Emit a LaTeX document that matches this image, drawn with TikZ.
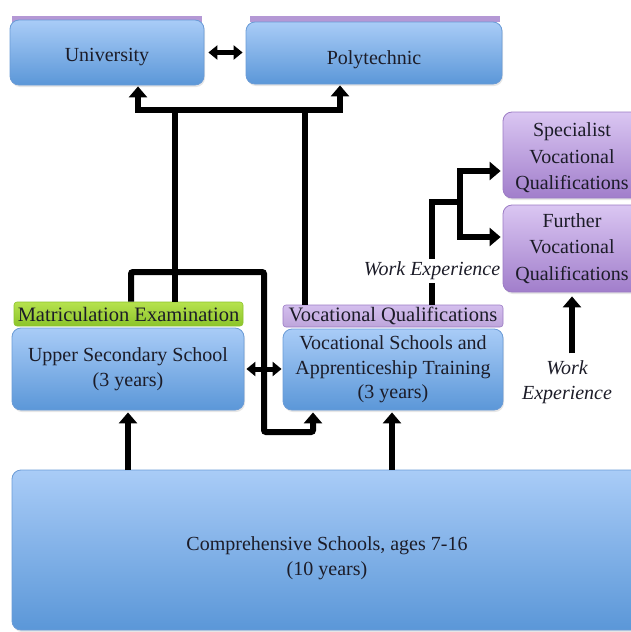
\documentclass[tikz,border=0pt]{standalone}
\usepackage{fontspec}
\setmainfont{Liberation Serif}
\usetikzlibrary{arrows.meta,shadows}
\definecolor{bluetop}{HTML}{A9CCF7}
\definecolor{bluebot}{HTML}{5B97D8}
\definecolor{blueedge}{HTML}{6A9BD6}
\definecolor{purptop}{HTML}{DAC6F2}
\definecolor{purpbot}{HTML}{A17ECB}
\definecolor{purpedge}{HTML}{9B7BC4}
\definecolor{greentop}{HTML}{B6E24E}
\definecolor{greenbot}{HTML}{8CC42B}
\definecolor{ink}{HTML}{1C1C28}
\newcommand{\boxfont}{\fontsize{20}{24.5}\selectfont}
% push a box's text down without changing its size
\newcommand{\dropby}[2]{\raisebox{-#1}[\height][\depth]{\begin{tabular}{@{}c@{}}#2\end{tabular}}}
\tikzset{
	school/.style={rounded corners=9pt, line width=0.8pt, align=center, text=ink, font=\boxfont, inner sep=2pt,
		drop shadow={opacity=0.2,shadow xshift=1pt,shadow yshift=-2pt}},
	bluebox/.style={school, draw=blueedge, top color=bluetop, bottom color=bluebot},
	purplebox/.style={school, draw=purpedge, top color=purptop, bottom color=purpbot},
	tag/.style={rounded corners=3pt, line width=0.6pt, text=ink, font=\fontsize{20.5}{24}\selectfont, inner sep=0pt},
	link/.style={line width=6pt, draw=black},
	arr/.style={link, -{Triangle[width=18pt,length=11pt]}},
	dbl/.style={line width=5pt, {Triangle[width=14pt,length=9pt]}-{Triangle[width=14pt,length=9pt]}},
	note/.style={font=\boxfont\itshape, text=ink, inner sep=3pt, align=center}
}
\begin{document}
\begin{tikzpicture}[x=1pt,y=-1pt]%[scale=0.65]
	\useasboundingbox (0,0) rectangle (630,632);
	% cut-off labels above the top row
	\fill[purpbot!80] (12,16) rectangle (202,22);
	\fill[purpbot!80] (250,16) rectangle (500,22);
	% higher education
	\node[bluebox, minimum width=194pt, minimum height=65pt] (uni) at (107,52.5) {\dropby{4pt}{University}};
	\node[bluebox, minimum width=256pt, minimum height=62pt] (poly) at (374,53) {\dropby{7pt}{Polytechnic}};
	% secondary level
	\node[tag, draw=greenbot, top color=greentop, bottom color=greenbot, minimum width=229pt, minimum height=24pt] (matric) at (128.5,314) {Matriculation Examination};
	\node[bluebox, minimum width=232pt, minimum height=82pt] (upper) at (128,369) {Upper Secondary School\\(3 years)};
	\node[tag, draw=purpedge, top color=purptop!90!purpbot, bottom color=purpbot!70, minimum width=220pt, minimum height=22pt] (vq) at (393,316) {Vocational Qualifications};
	\node[bluebox, minimum width=220pt, minimum height=81pt] (voc) at (393,369.5) {Vocational Schools and\\Apprenticeship Training\\(3 years)};
	% further vocational
	\node[purplebox, font=\fontsize{20}{26.5}\selectfont, minimum width=138pt, minimum height=86pt] (spec) at (572,155) {\dropby{3pt}{Specialist\\Vocational\\Qualifications}};
	\node[purplebox, font=\fontsize{20}{26.5}\selectfont, minimum width=138pt, minimum height=87pt] (further) at (572,248.5) {Further\\Vocational\\Qualifications};
	\node[note] (we1) at (432,271) {Work Experience};
	\node[note] (we2) at (567,382) {Work\\Experience};
	% basic education
	\node[bluebox, minimum width=630pt, minimum height=160pt] (comp) at (327,550) {\dropby{8pt}{Comprehensive Schools, ages 7-16\\(10 years)}};
	% arrows
	\coordinate (bL) at (138,110);
	\coordinate (bR) at (340,110);
	\coordinate (bM) at (175,110);
	\coordinate (bV) at (305,110);
	\draw[dbl] ([xshift=4pt]uni.east) -- ([xshift=-3pt]poly.west |- uni.east);
	\draw[link] ([xshift=-3pt]bL) -- ([xshift=3pt]bR);
	\draw[arr] (bL) -- ([yshift=-1pt]bL |- uni.south);
	\draw[arr] (bR) -- ([yshift=-1pt]bR |- poly.south);
	\draw[link] (matric.north -| bM) -- (bM);
	\draw[link] (vq.north -| bV) -- (bV);
	\coordinate (k1) at (131,272);
	\coordinate (k2) at (264,432);
	\coordinate (k3) at (313,432);
	\draw[arr, rounded corners=2pt] (matric.north -| k1) -- (k1) -| (k2) -- (k3) -- ([yshift=-2pt]k3 |- voc.south);
	\draw[dbl] ([xshift=2pt]upper.east) -- ([xshift=-1pt]upper.east -| voc.west);
	\coordinate (c1) at (128,470);
	\coordinate (c2) at (392,470);
	\draw[arr] (c1) -- ([yshift=-2pt]c1 |- upper.south);
	\draw[arr] (c2) -- ([yshift=-2pt]c2 |- voc.south);
	% work experience routes
	\coordinate (w1) at (432,202);
	\coordinate (w2) at (460,202);
	\coordinate (s1) at (460,171);
	\coordinate (f1) at (460,237);
	\draw[link] (vq.north -| we1) -- (we1.south);
	\draw[link] (we1.north) -- (w1) -- ([xshift=3pt]w2);
	\draw[arr] ([yshift=-3pt]w2) -- (s1) -- ([xshift=-2pt]s1 -| spec.west);
	\draw[arr] ([yshift=3pt]w2) -- (f1) -- ([xshift=-2pt]f1 -| further.west);
	\draw[arr, shorten <=4pt] (further.south |- we2.north) -- ([yshift=-4pt]further.south);
\end{tikzpicture}
\end{document}
